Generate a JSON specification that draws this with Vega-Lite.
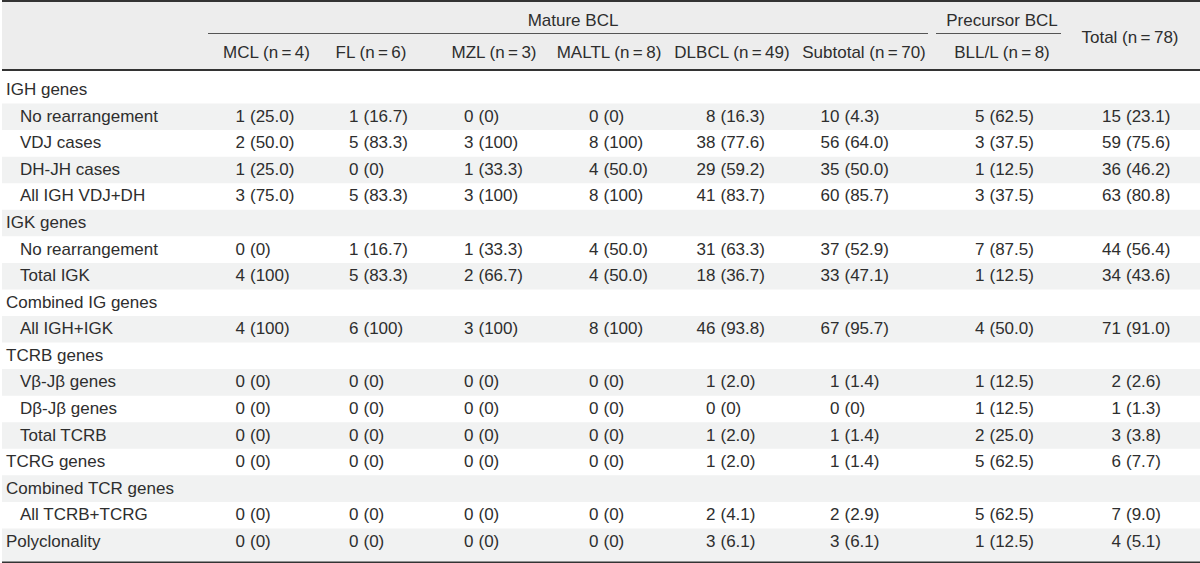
{
  "$schema": "https://vega.github.io/schema/vega-lite/v6.json",
  "padding": 0,
  "spacing": 0,
  "config": {
    "view": {"stroke": null},
    "concat": {"spacing": 0},
    "text": {"font": "Liberation Sans", "fontSize": 17, "fill": "#2e2e2e"}
  },
  "datasets": {
    "rows": [
      {"key": "IGH", "label": "IGH genes", "level": 0},
      {"key": "IGH-none", "label": "No rearrangement", "level": 1},
      {"key": "IGH-VDJ", "label": "VDJ cases", "level": 1},
      {"key": "IGH-DHJH", "label": "DH-JH cases", "level": 1},
      {"key": "IGH-all", "label": "All IGH VDJ+DH", "level": 1},
      {"key": "IGK", "label": "IGK genes", "level": 0},
      {"key": "IGK-none", "label": "No rearrangement", "level": 1},
      {"key": "IGK-total", "label": "Total IGK", "level": 1},
      {"key": "IG", "label": "Combined IG genes", "level": 0},
      {"key": "IG-all", "label": "All IGH+IGK", "level": 1},
      {"key": "TCRB", "label": "TCRB genes", "level": 0},
      {"key": "TCRB-VJ", "label": "Vβ-Jβ genes", "level": 1},
      {"key": "TCRB-DJ", "label": "Dβ-Jβ genes", "level": 1},
      {"key": "TCRB-total", "label": "Total TCRB", "level": 1},
      {"key": "TCRG", "label": "TCRG genes", "level": 0},
      {"key": "TCR", "label": "Combined TCR genes", "level": 0},
      {"key": "TCR-all", "label": "All TCRB+TCRG", "level": 1},
      {"key": "Poly", "label": "Polyclonality", "level": 0}
    ],
    "cells": [
      {"key": "IGH-none", "col": "MCL", "n": 1, "pct": "(25.0)"},
      {"key": "IGH-none", "col": "FL", "n": 1, "pct": "(16.7)"},
      {"key": "IGH-none", "col": "MZL", "n": 0, "pct": "(0)"},
      {"key": "IGH-none", "col": "MALTL", "n": 0, "pct": "(0)"},
      {"key": "IGH-none", "col": "DLBCL", "n": 8, "pct": "(16.3)"},
      {"key": "IGH-none", "col": "Subtotal", "n": 10, "pct": "(4.3)"},
      {"key": "IGH-none", "col": "BLL/L", "n": 5, "pct": "(62.5)"},
      {"key": "IGH-none", "col": "Total", "n": 15, "pct": "(23.1)"},
      {"key": "IGH-VDJ", "col": "MCL", "n": 2, "pct": "(50.0)"},
      {"key": "IGH-VDJ", "col": "FL", "n": 5, "pct": "(83.3)"},
      {"key": "IGH-VDJ", "col": "MZL", "n": 3, "pct": "(100)"},
      {"key": "IGH-VDJ", "col": "MALTL", "n": 8, "pct": "(100)"},
      {"key": "IGH-VDJ", "col": "DLBCL", "n": 38, "pct": "(77.6)"},
      {"key": "IGH-VDJ", "col": "Subtotal", "n": 56, "pct": "(64.0)"},
      {"key": "IGH-VDJ", "col": "BLL/L", "n": 3, "pct": "(37.5)"},
      {"key": "IGH-VDJ", "col": "Total", "n": 59, "pct": "(75.6)"},
      {"key": "IGH-DHJH", "col": "MCL", "n": 1, "pct": "(25.0)"},
      {"key": "IGH-DHJH", "col": "FL", "n": 0, "pct": "(0)"},
      {"key": "IGH-DHJH", "col": "MZL", "n": 1, "pct": "(33.3)"},
      {"key": "IGH-DHJH", "col": "MALTL", "n": 4, "pct": "(50.0)"},
      {"key": "IGH-DHJH", "col": "DLBCL", "n": 29, "pct": "(59.2)"},
      {"key": "IGH-DHJH", "col": "Subtotal", "n": 35, "pct": "(50.0)"},
      {"key": "IGH-DHJH", "col": "BLL/L", "n": 1, "pct": "(12.5)"},
      {"key": "IGH-DHJH", "col": "Total", "n": 36, "pct": "(46.2)"},
      {"key": "IGH-all", "col": "MCL", "n": 3, "pct": "(75.0)"},
      {"key": "IGH-all", "col": "FL", "n": 5, "pct": "(83.3)"},
      {"key": "IGH-all", "col": "MZL", "n": 3, "pct": "(100)"},
      {"key": "IGH-all", "col": "MALTL", "n": 8, "pct": "(100)"},
      {"key": "IGH-all", "col": "DLBCL", "n": 41, "pct": "(83.7)"},
      {"key": "IGH-all", "col": "Subtotal", "n": 60, "pct": "(85.7)"},
      {"key": "IGH-all", "col": "BLL/L", "n": 3, "pct": "(37.5)"},
      {"key": "IGH-all", "col": "Total", "n": 63, "pct": "(80.8)"},
      {"key": "IGK-none", "col": "MCL", "n": 0, "pct": "(0)"},
      {"key": "IGK-none", "col": "FL", "n": 1, "pct": "(16.7)"},
      {"key": "IGK-none", "col": "MZL", "n": 1, "pct": "(33.3)"},
      {"key": "IGK-none", "col": "MALTL", "n": 4, "pct": "(50.0)"},
      {"key": "IGK-none", "col": "DLBCL", "n": 31, "pct": "(63.3)"},
      {"key": "IGK-none", "col": "Subtotal", "n": 37, "pct": "(52.9)"},
      {"key": "IGK-none", "col": "BLL/L", "n": 7, "pct": "(87.5)"},
      {"key": "IGK-none", "col": "Total", "n": 44, "pct": "(56.4)"},
      {"key": "IGK-total", "col": "MCL", "n": 4, "pct": "(100)"},
      {"key": "IGK-total", "col": "FL", "n": 5, "pct": "(83.3)"},
      {"key": "IGK-total", "col": "MZL", "n": 2, "pct": "(66.7)"},
      {"key": "IGK-total", "col": "MALTL", "n": 4, "pct": "(50.0)"},
      {"key": "IGK-total", "col": "DLBCL", "n": 18, "pct": "(36.7)"},
      {"key": "IGK-total", "col": "Subtotal", "n": 33, "pct": "(47.1)"},
      {"key": "IGK-total", "col": "BLL/L", "n": 1, "pct": "(12.5)"},
      {"key": "IGK-total", "col": "Total", "n": 34, "pct": "(43.6)"},
      {"key": "IG-all", "col": "MCL", "n": 4, "pct": "(100)"},
      {"key": "IG-all", "col": "FL", "n": 6, "pct": "(100)"},
      {"key": "IG-all", "col": "MZL", "n": 3, "pct": "(100)"},
      {"key": "IG-all", "col": "MALTL", "n": 8, "pct": "(100)"},
      {"key": "IG-all", "col": "DLBCL", "n": 46, "pct": "(93.8)"},
      {"key": "IG-all", "col": "Subtotal", "n": 67, "pct": "(95.7)"},
      {"key": "IG-all", "col": "BLL/L", "n": 4, "pct": "(50.0)"},
      {"key": "IG-all", "col": "Total", "n": 71, "pct": "(91.0)"},
      {"key": "TCRB-VJ", "col": "MCL", "n": 0, "pct": "(0)"},
      {"key": "TCRB-VJ", "col": "FL", "n": 0, "pct": "(0)"},
      {"key": "TCRB-VJ", "col": "MZL", "n": 0, "pct": "(0)"},
      {"key": "TCRB-VJ", "col": "MALTL", "n": 0, "pct": "(0)"},
      {"key": "TCRB-VJ", "col": "DLBCL", "n": 1, "pct": "(2.0)"},
      {"key": "TCRB-VJ", "col": "Subtotal", "n": 1, "pct": "(1.4)"},
      {"key": "TCRB-VJ", "col": "BLL/L", "n": 1, "pct": "(12.5)"},
      {"key": "TCRB-VJ", "col": "Total", "n": 2, "pct": "(2.6)"},
      {"key": "TCRB-DJ", "col": "MCL", "n": 0, "pct": "(0)"},
      {"key": "TCRB-DJ", "col": "FL", "n": 0, "pct": "(0)"},
      {"key": "TCRB-DJ", "col": "MZL", "n": 0, "pct": "(0)"},
      {"key": "TCRB-DJ", "col": "MALTL", "n": 0, "pct": "(0)"},
      {"key": "TCRB-DJ", "col": "DLBCL", "n": 0, "pct": "(0)"},
      {"key": "TCRB-DJ", "col": "Subtotal", "n": 0, "pct": "(0)"},
      {"key": "TCRB-DJ", "col": "BLL/L", "n": 1, "pct": "(12.5)"},
      {"key": "TCRB-DJ", "col": "Total", "n": 1, "pct": "(1.3)"},
      {"key": "TCRB-total", "col": "MCL", "n": 0, "pct": "(0)"},
      {"key": "TCRB-total", "col": "FL", "n": 0, "pct": "(0)"},
      {"key": "TCRB-total", "col": "MZL", "n": 0, "pct": "(0)"},
      {"key": "TCRB-total", "col": "MALTL", "n": 0, "pct": "(0)"},
      {"key": "TCRB-total", "col": "DLBCL", "n": 1, "pct": "(2.0)"},
      {"key": "TCRB-total", "col": "Subtotal", "n": 1, "pct": "(1.4)"},
      {"key": "TCRB-total", "col": "BLL/L", "n": 2, "pct": "(25.0)"},
      {"key": "TCRB-total", "col": "Total", "n": 3, "pct": "(3.8)"},
      {"key": "TCRG", "col": "MCL", "n": 0, "pct": "(0)"},
      {"key": "TCRG", "col": "FL", "n": 0, "pct": "(0)"},
      {"key": "TCRG", "col": "MZL", "n": 0, "pct": "(0)"},
      {"key": "TCRG", "col": "MALTL", "n": 0, "pct": "(0)"},
      {"key": "TCRG", "col": "DLBCL", "n": 1, "pct": "(2.0)"},
      {"key": "TCRG", "col": "Subtotal", "n": 1, "pct": "(1.4)"},
      {"key": "TCRG", "col": "BLL/L", "n": 5, "pct": "(62.5)"},
      {"key": "TCRG", "col": "Total", "n": 6, "pct": "(7.7)"},
      {"key": "TCR-all", "col": "MCL", "n": 0, "pct": "(0)"},
      {"key": "TCR-all", "col": "FL", "n": 0, "pct": "(0)"},
      {"key": "TCR-all", "col": "MZL", "n": 0, "pct": "(0)"},
      {"key": "TCR-all", "col": "MALTL", "n": 0, "pct": "(0)"},
      {"key": "TCR-all", "col": "DLBCL", "n": 2, "pct": "(4.1)"},
      {"key": "TCR-all", "col": "Subtotal", "n": 2, "pct": "(2.9)"},
      {"key": "TCR-all", "col": "BLL/L", "n": 5, "pct": "(62.5)"},
      {"key": "TCR-all", "col": "Total", "n": 7, "pct": "(9.0)"},
      {"key": "Poly", "col": "MCL", "n": 0, "pct": "(0)"},
      {"key": "Poly", "col": "FL", "n": 0, "pct": "(0)"},
      {"key": "Poly", "col": "MZL", "n": 0, "pct": "(0)"},
      {"key": "Poly", "col": "MALTL", "n": 0, "pct": "(0)"},
      {"key": "Poly", "col": "DLBCL", "n": 3, "pct": "(6.1)"},
      {"key": "Poly", "col": "Subtotal", "n": 3, "pct": "(6.1)"},
      {"key": "Poly", "col": "BLL/L", "n": 1, "pct": "(12.5)"},
      {"key": "Poly", "col": "Total", "n": 4, "pct": "(5.1)"}
    ]
  },
  "vconcat": [
    {
      "hconcat": [
        {"width": 202, "height": 69, "view": {"fill": "#ededed"}, "data": {"values": [{}]},
         "mark": {"type": "rect", "color": "#333"},
         "encoding": {"x": {"value": 0}, "x2": {"value": "width"}, "y": {"value": 0}, "y2": {"value": 2}}},
        {"vconcat": [
          {"width": 728, "height": 34, "view": {"fill": "#ededed"}, "layer": [
            {"data": {"values": [{"h": "Mature BCL"}]}, "mark": {"type": "text", "baseline": "middle", "dy": 4, "dx": 5}, "encoding": {"text": {"field": "h", "type": "nominal"}}},
            {"data": {"values": [{}]}, "mark": {"type": "rect", "color": "#333"}, "encoding": {"x": {"value": 0}, "x2": {"value": "width"}, "y": {"value": 0}, "y2": {"value": 2}}},
            {"data": {"values": [{}]}, "mark": {"type": "rule", "color": "#555", "strokeWidth": 1, "xOffset": 4, "x2Offset": -4, "yOffset": -0.5}, "encoding": {"x": {"value": 0}, "x2": {"value": "width"}, "y": {"value": "height"}}}
          ]},
          {"hconcat": [
            {"width": 113, "height": 35, "view": {"fill": "#ededed"}, "data": {"values": [{"h": "MCL (n\u2009=\u20094)"}]}, "mark": {"type": "text", "baseline": "middle", "dy": 1, "dx": 6}, "encoding": {"text": {"field": "h", "type": "nominal"}}},
            {"width": 115, "height": 35, "view": {"fill": "#ededed"}, "data": {"values": [{"h": "FL (n\u2009=\u20096)"}]}, "mark": {"type": "text", "baseline": "middle", "dy": 1, "dx": -3.5}, "encoding": {"text": {"field": "h", "type": "nominal"}}},
            {"width": 120, "height": 35, "view": {"fill": "#ededed"}, "data": {"values": [{"h": "MZL (n\u2009=\u20093)"}]}, "mark": {"type": "text", "baseline": "middle", "dy": 1, "dx": 2}, "encoding": {"text": {"field": "h", "type": "nominal"}}},
            {"width": 120, "height": 35, "view": {"fill": "#ededed"}, "data": {"values": [{"h": "MALTL (n\u2009=\u20098)"}]}, "mark": {"type": "text", "baseline": "middle", "dy": 1, "dx": -3}, "encoding": {"text": {"field": "h", "type": "nominal"}}},
            {"width": 120, "height": 35, "view": {"fill": "#ededed"}, "data": {"values": [{"h": "DLBCL (n\u2009=\u200949)"}]}, "mark": {"type": "text", "baseline": "middle", "dy": 1}, "encoding": {"text": {"field": "h", "type": "nominal"}}},
            {"width": 140, "height": 35, "view": {"fill": "#ededed"}, "data": {"values": [{"h": "Subtotal (n\u2009=\u200970)"}]}, "mark": {"type": "text", "baseline": "middle", "dy": 1, "dx": 2}, "encoding": {"text": {"field": "h", "type": "nominal"}}}
          ], "spacing": 0}
        ], "spacing": 0},
        {"vconcat": [
          {"width": 130, "height": 34, "view": {"fill": "#ededed"}, "layer": [
            {"data": {"values": [{"h": "Precursor BCL"}]}, "mark": {"type": "text", "baseline": "middle", "dy": 4, "dx": 5}, "encoding": {"text": {"field": "h", "type": "nominal"}}},
            {"data": {"values": [{}]}, "mark": {"type": "rect", "color": "#333"}, "encoding": {"x": {"value": 0}, "x2": {"value": "width"}, "y": {"value": 0}, "y2": {"value": 2}}},
            {"data": {"values": [{}]}, "mark": {"type": "rule", "color": "#555", "strokeWidth": 1, "xOffset": 4, "x2Offset": -1, "yOffset": -0.5}, "encoding": {"x": {"value": 0}, "x2": {"value": "width"}, "y": {"value": "height"}}}
          ]},
          {"width": 130, "height": 35, "view": {"fill": "#ededed"}, "data": {"values": [{"h": "BLL/L (n\u2009=\u20098)"}]}, "mark": {"type": "text", "baseline": "middle", "dy": 1, "dx": 5}, "encoding": {"text": {"field": "h", "type": "nominal"}}}
        ], "spacing": 0},
        {"width": 140, "height": 69, "view": {"fill": "#ededed"}, "layer": [
          {"data": {"values": [{"h": "Total (n\u2009=\u200978)"}]}, "mark": {"type": "text", "baseline": "middle", "dy": 3, "dx": -2}, "encoding": {"text": {"field": "h", "type": "nominal"}}},
          {"data": {"values": [{}]}, "mark": {"type": "rect", "color": "#333"}, "encoding": {"x": {"value": 0}, "x2": {"value": "width"}, "y": {"value": 0}, "y2": {"value": 2}}}
        ]}
      ],
      "spacing": 0
    },
    {
      "hconcat": [
        {"width": 202, "height": 494,
         "encoding": {"y": {"field": "key", "type": "nominal", "axis": null, "scale": {"domain": ["IGH","IGH-none","IGH-VDJ","IGH-DHJH","IGH-all","IGK","IGK-none","IGK-total","IG","IG-all","TCRB","TCRB-VJ","TCRB-DJ","TCRB-total","TCRG","TCR","TCR-all","Poly"], "paddingInner": 0, "paddingOuter": 0.3}}},
         "layer": [
           {"data": {"name": "rows"}, "transform": [{"window": [{"op": "row_number", "as": "rn"}]}, {"filter": "datum.rn % 2 == 0"}], "mark": {"type": "rect", "color": "#f1f2f2"}},
           {"data": {"name": "rows"}, "transform": [{"filter": "datum.key == 'Poly'"}], "mark": {"type": "rect", "color": "#f1f2f2", "yOffset": 8}},
           {"data": {"name": "rows"}, "mark": {"type": "text", "align": "left", "baseline": "middle"}, "encoding": {"x": {"field": "level", "type": "quantitative", "axis": null, "scale": {"domain": [0, 1], "range": [4, 18]}}, "text": {"field": "label", "type": "nominal"}}},
           {"data": {"values": [{}]}, "mark": {"type": "rule", "color": "#333", "strokeWidth": 2, "yOffset": 1}, "encoding": {"x": {"value": 0}, "x2": {"value": "width"}, "y": {"value": 0}}},
           {"data": {"values": [{}]}, "mark": {"type": "rule", "color": "#333", "strokeWidth": 3}, "encoding": {"x": {"value": 0}, "x2": {"value": "width"}, "y": {"value": "height"}}}
         ]},
        {"width": 113, "height": 494,
         "encoding": {"y": {"field": "key", "type": "nominal", "axis": null, "scale": {"domain": ["IGH","IGH-none","IGH-VDJ","IGH-DHJH","IGH-all","IGK","IGK-none","IGK-total","IG","IG-all","TCRB","TCRB-VJ","TCRB-DJ","TCRB-total","TCRG","TCR","TCR-all","Poly"], "paddingInner": 0, "paddingOuter": 0.3}}},
         "layer": [
           {"data": {"name": "rows"}, "transform": [{"window": [{"op": "row_number", "as": "rn"}]}, {"filter": "datum.rn % 2 == 0"}], "mark": {"type": "rect", "color": "#f1f2f2"}},
           {"data": {"name": "rows"}, "transform": [{"filter": "datum.key == 'Poly'"}], "mark": {"type": "rect", "color": "#f1f2f2", "yOffset": 8}},
           {"data": {"name": "cells"}, "transform": [{"filter": "datum.col == 'MCL'"}], "mark": {"type": "text", "align": "right", "baseline": "middle", "dx": -15.5}, "encoding": {"text": {"field": "n", "type": "nominal"}}},
           {"data": {"name": "cells"}, "transform": [{"filter": "datum.col == 'MCL'"}], "mark": {"type": "text", "align": "left", "baseline": "middle", "dx": -10.5}, "encoding": {"text": {"field": "pct", "type": "nominal"}}},
           {"data": {"values": [{}]}, "mark": {"type": "rule", "color": "#333", "strokeWidth": 2, "yOffset": 1}, "encoding": {"x": {"value": 0}, "x2": {"value": "width"}, "y": {"value": 0}}},
           {"data": {"values": [{}]}, "mark": {"type": "rule", "color": "#333", "strokeWidth": 3}, "encoding": {"x": {"value": 0}, "x2": {"value": "width"}, "y": {"value": "height"}}}
         ]},
        {"width": 115, "height": 494,
         "encoding": {"y": {"field": "key", "type": "nominal", "axis": null, "scale": {"domain": ["IGH","IGH-none","IGH-VDJ","IGH-DHJH","IGH-all","IGK","IGK-none","IGK-total","IG","IG-all","TCRB","TCRB-VJ","TCRB-DJ","TCRB-total","TCRG","TCR","TCR-all","Poly"], "paddingInner": 0, "paddingOuter": 0.3}}},
         "layer": [
           {"data": {"name": "rows"}, "transform": [{"window": [{"op": "row_number", "as": "rn"}]}, {"filter": "datum.rn % 2 == 0"}], "mark": {"type": "rect", "color": "#f1f2f2"}},
           {"data": {"name": "rows"}, "transform": [{"filter": "datum.key == 'Poly'"}], "mark": {"type": "rect", "color": "#f1f2f2", "yOffset": 8}},
           {"data": {"name": "cells"}, "transform": [{"filter": "datum.col == 'FL'"}], "mark": {"type": "text", "align": "right", "baseline": "middle", "dx": -16}, "encoding": {"text": {"field": "n", "type": "nominal"}}},
           {"data": {"name": "cells"}, "transform": [{"filter": "datum.col == 'FL'"}], "mark": {"type": "text", "align": "left", "baseline": "middle", "dx": -11}, "encoding": {"text": {"field": "pct", "type": "nominal"}}},
           {"data": {"values": [{}]}, "mark": {"type": "rule", "color": "#333", "strokeWidth": 2, "yOffset": 1}, "encoding": {"x": {"value": 0}, "x2": {"value": "width"}, "y": {"value": 0}}},
           {"data": {"values": [{}]}, "mark": {"type": "rule", "color": "#333", "strokeWidth": 3}, "encoding": {"x": {"value": 0}, "x2": {"value": "width"}, "y": {"value": "height"}}}
         ]},
        {"width": 120, "height": 494,
         "encoding": {"y": {"field": "key", "type": "nominal", "axis": null, "scale": {"domain": ["IGH","IGH-none","IGH-VDJ","IGH-DHJH","IGH-all","IGK","IGK-none","IGK-total","IG","IG-all","TCRB","TCRB-VJ","TCRB-DJ","TCRB-total","TCRG","TCR","TCR-all","Poly"], "paddingInner": 0, "paddingOuter": 0.3}}},
         "layer": [
           {"data": {"name": "rows"}, "transform": [{"window": [{"op": "row_number", "as": "rn"}]}, {"filter": "datum.rn % 2 == 0"}], "mark": {"type": "rect", "color": "#f1f2f2"}},
           {"data": {"name": "rows"}, "transform": [{"filter": "datum.key == 'Poly'"}], "mark": {"type": "rect", "color": "#f1f2f2", "yOffset": 8}},
           {"data": {"name": "cells"}, "transform": [{"filter": "datum.col == 'MZL'"}], "mark": {"type": "text", "align": "right", "baseline": "middle", "dx": -18.5}, "encoding": {"text": {"field": "n", "type": "nominal"}}},
           {"data": {"name": "cells"}, "transform": [{"filter": "datum.col == 'MZL'"}], "mark": {"type": "text", "align": "left", "baseline": "middle", "dx": -13.5}, "encoding": {"text": {"field": "pct", "type": "nominal"}}},
           {"data": {"values": [{}]}, "mark": {"type": "rule", "color": "#333", "strokeWidth": 2, "yOffset": 1}, "encoding": {"x": {"value": 0}, "x2": {"value": "width"}, "y": {"value": 0}}},
           {"data": {"values": [{}]}, "mark": {"type": "rule", "color": "#333", "strokeWidth": 3}, "encoding": {"x": {"value": 0}, "x2": {"value": "width"}, "y": {"value": "height"}}}
         ]},
        {"width": 120, "height": 494,
         "encoding": {"y": {"field": "key", "type": "nominal", "axis": null, "scale": {"domain": ["IGH","IGH-none","IGH-VDJ","IGH-DHJH","IGH-all","IGK","IGK-none","IGK-total","IG","IG-all","TCRB","TCRB-VJ","TCRB-DJ","TCRB-total","TCRG","TCR","TCR-all","Poly"], "paddingInner": 0, "paddingOuter": 0.3}}},
         "layer": [
           {"data": {"name": "rows"}, "transform": [{"window": [{"op": "row_number", "as": "rn"}]}, {"filter": "datum.rn % 2 == 0"}], "mark": {"type": "rect", "color": "#f1f2f2"}},
           {"data": {"name": "rows"}, "transform": [{"filter": "datum.key == 'Poly'"}], "mark": {"type": "rect", "color": "#f1f2f2", "yOffset": 8}},
           {"data": {"name": "cells"}, "transform": [{"filter": "datum.col == 'MALTL'"}], "mark": {"type": "text", "align": "right", "baseline": "middle", "dx": -13.5}, "encoding": {"text": {"field": "n", "type": "nominal"}}},
           {"data": {"name": "cells"}, "transform": [{"filter": "datum.col == 'MALTL'"}], "mark": {"type": "text", "align": "left", "baseline": "middle", "dx": -8.5}, "encoding": {"text": {"field": "pct", "type": "nominal"}}},
           {"data": {"values": [{}]}, "mark": {"type": "rule", "color": "#333", "strokeWidth": 2, "yOffset": 1}, "encoding": {"x": {"value": 0}, "x2": {"value": "width"}, "y": {"value": 0}}},
           {"data": {"values": [{}]}, "mark": {"type": "rule", "color": "#333", "strokeWidth": 3}, "encoding": {"x": {"value": 0}, "x2": {"value": "width"}, "y": {"value": "height"}}}
         ]},
        {"width": 120, "height": 494,
         "encoding": {"y": {"field": "key", "type": "nominal", "axis": null, "scale": {"domain": ["IGH","IGH-none","IGH-VDJ","IGH-DHJH","IGH-all","IGK","IGK-none","IGK-total","IG","IG-all","TCRB","TCRB-VJ","TCRB-DJ","TCRB-total","TCRG","TCR","TCR-all","Poly"], "paddingInner": 0, "paddingOuter": 0.3}}},
         "layer": [
           {"data": {"name": "rows"}, "transform": [{"window": [{"op": "row_number", "as": "rn"}]}, {"filter": "datum.rn % 2 == 0"}], "mark": {"type": "rect", "color": "#f1f2f2"}},
           {"data": {"name": "rows"}, "transform": [{"filter": "datum.key == 'Poly'"}], "mark": {"type": "rect", "color": "#f1f2f2", "yOffset": 8}},
           {"data": {"name": "cells"}, "transform": [{"filter": "datum.col == 'DLBCL'"}], "mark": {"type": "text", "align": "right", "baseline": "middle", "dx": -16.5}, "encoding": {"text": {"field": "n", "type": "nominal"}}},
           {"data": {"name": "cells"}, "transform": [{"filter": "datum.col == 'DLBCL'"}], "mark": {"type": "text", "align": "left", "baseline": "middle", "dx": -11.5}, "encoding": {"text": {"field": "pct", "type": "nominal"}}},
           {"data": {"values": [{}]}, "mark": {"type": "rule", "color": "#333", "strokeWidth": 2, "yOffset": 1}, "encoding": {"x": {"value": 0}, "x2": {"value": "width"}, "y": {"value": 0}}},
           {"data": {"values": [{}]}, "mark": {"type": "rule", "color": "#333", "strokeWidth": 3}, "encoding": {"x": {"value": 0}, "x2": {"value": "width"}, "y": {"value": "height"}}}
         ]},
        {"width": 140, "height": 494,
         "encoding": {"y": {"field": "key", "type": "nominal", "axis": null, "scale": {"domain": ["IGH","IGH-none","IGH-VDJ","IGH-DHJH","IGH-all","IGK","IGK-none","IGK-total","IG","IG-all","TCRB","TCRB-VJ","TCRB-DJ","TCRB-total","TCRG","TCR","TCR-all","Poly"], "paddingInner": 0, "paddingOuter": 0.3}}},
         "layer": [
           {"data": {"name": "rows"}, "transform": [{"window": [{"op": "row_number", "as": "rn"}]}, {"filter": "datum.rn % 2 == 0"}], "mark": {"type": "rect", "color": "#f1f2f2"}},
           {"data": {"name": "rows"}, "transform": [{"filter": "datum.key == 'Poly'"}], "mark": {"type": "rect", "color": "#f1f2f2", "yOffset": 8}},
           {"data": {"name": "cells"}, "transform": [{"filter": "datum.col == 'Subtotal'"}], "mark": {"type": "text", "align": "right", "baseline": "middle", "dx": -22.5}, "encoding": {"text": {"field": "n", "type": "nominal"}}},
           {"data": {"name": "cells"}, "transform": [{"filter": "datum.col == 'Subtotal'"}], "mark": {"type": "text", "align": "left", "baseline": "middle", "dx": -17.5}, "encoding": {"text": {"field": "pct", "type": "nominal"}}},
           {"data": {"values": [{}]}, "mark": {"type": "rule", "color": "#333", "strokeWidth": 2, "yOffset": 1}, "encoding": {"x": {"value": 0}, "x2": {"value": "width"}, "y": {"value": 0}}},
           {"data": {"values": [{}]}, "mark": {"type": "rule", "color": "#333", "strokeWidth": 3}, "encoding": {"x": {"value": 0}, "x2": {"value": "width"}, "y": {"value": "height"}}}
         ]},
        {"width": 130, "height": 494,
         "encoding": {"y": {"field": "key", "type": "nominal", "axis": null, "scale": {"domain": ["IGH","IGH-none","IGH-VDJ","IGH-DHJH","IGH-all","IGK","IGK-none","IGK-total","IG","IG-all","TCRB","TCRB-VJ","TCRB-DJ","TCRB-total","TCRG","TCR","TCR-all","Poly"], "paddingInner": 0, "paddingOuter": 0.3}}},
         "layer": [
           {"data": {"name": "rows"}, "transform": [{"window": [{"op": "row_number", "as": "rn"}]}, {"filter": "datum.rn % 2 == 0"}], "mark": {"type": "rect", "color": "#f1f2f2"}},
           {"data": {"name": "rows"}, "transform": [{"filter": "datum.key == 'Poly'"}], "mark": {"type": "rect", "color": "#f1f2f2", "yOffset": 8}},
           {"data": {"name": "cells"}, "transform": [{"filter": "datum.col == 'BLL/L'"}], "mark": {"type": "text", "align": "right", "baseline": "middle", "dx": -12.5}, "encoding": {"text": {"field": "n", "type": "nominal"}}},
           {"data": {"name": "cells"}, "transform": [{"filter": "datum.col == 'BLL/L'"}], "mark": {"type": "text", "align": "left", "baseline": "middle", "dx": -7.5}, "encoding": {"text": {"field": "pct", "type": "nominal"}}},
           {"data": {"values": [{}]}, "mark": {"type": "rule", "color": "#333", "strokeWidth": 2, "yOffset": 1}, "encoding": {"x": {"value": 0}, "x2": {"value": "width"}, "y": {"value": 0}}},
           {"data": {"values": [{}]}, "mark": {"type": "rule", "color": "#333", "strokeWidth": 3}, "encoding": {"x": {"value": 0}, "x2": {"value": "width"}, "y": {"value": "height"}}}
         ]},
        {"width": 140, "height": 494,
         "encoding": {"y": {"field": "key", "type": "nominal", "axis": null, "scale": {"domain": ["IGH","IGH-none","IGH-VDJ","IGH-DHJH","IGH-all","IGK","IGK-none","IGK-total","IG","IG-all","TCRB","TCRB-VJ","TCRB-DJ","TCRB-total","TCRG","TCR","TCR-all","Poly"], "paddingInner": 0, "paddingOuter": 0.3}}},
         "layer": [
           {"data": {"name": "rows"}, "transform": [{"window": [{"op": "row_number", "as": "rn"}]}, {"filter": "datum.rn % 2 == 0"}], "mark": {"type": "rect", "color": "#f1f2f2"}},
           {"data": {"name": "rows"}, "transform": [{"filter": "datum.key == 'Poly'"}], "mark": {"type": "rect", "color": "#f1f2f2", "yOffset": 8}},
           {"data": {"name": "cells"}, "transform": [{"filter": "datum.col == 'Total'"}], "mark": {"type": "text", "align": "right", "baseline": "middle", "dx": -11}, "encoding": {"text": {"field": "n", "type": "nominal"}}},
           {"data": {"name": "cells"}, "transform": [{"filter": "datum.col == 'Total'"}], "mark": {"type": "text", "align": "left", "baseline": "middle", "dx": -6}, "encoding": {"text": {"field": "pct", "type": "nominal"}}},
           {"data": {"values": [{}]}, "mark": {"type": "rule", "color": "#333", "strokeWidth": 2, "yOffset": 1}, "encoding": {"x": {"value": 0}, "x2": {"value": "width"}, "y": {"value": 0}}},
           {"data": {"values": [{}]}, "mark": {"type": "rule", "color": "#333", "strokeWidth": 3}, "encoding": {"x": {"value": 0}, "x2": {"value": "width"}, "y": {"value": "height"}}}
         ]}
      ],
      "spacing": 0,
      "bounds": "flush"
    }
  ]
}
